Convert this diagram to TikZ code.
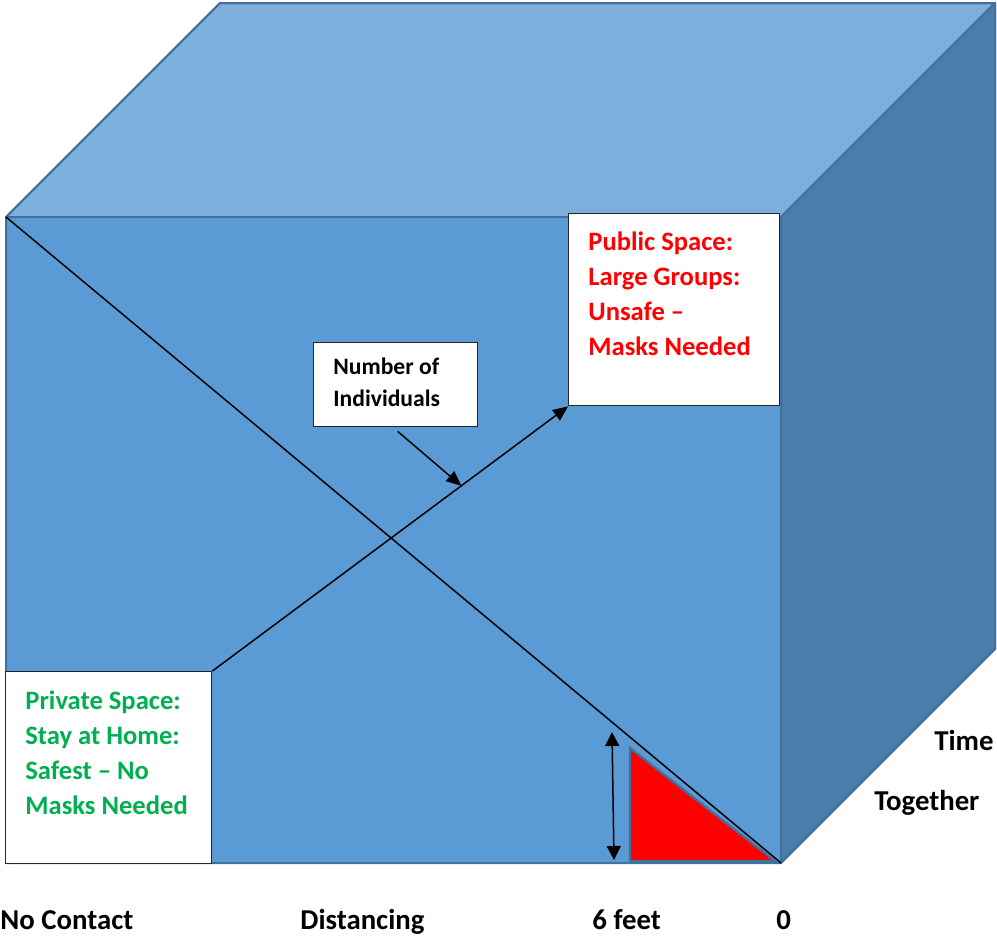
\documentclass[tikz,border=0pt]{standalone}
\usepackage{fontspec}
\setmainfont{Carlito}
\usepackage{xcolor}
\usetikzlibrary{positioning,calc,arrows.meta}
\definecolor{frontblue}{HTML}{5B9BD5}
\definecolor{topblue}{HTML}{7DAEDC}
\definecolor{sideblue}{HTML}{4A7DAB}
\definecolor{edgeblue}{HTML}{41719C}
\definecolor{safegreen}{HTML}{00B050}

\begin{document}
\begin{tikzpicture}[x=0.5pt,y=-0.5pt]
 \tikzset{face/.style={draw=edgeblue, line width=1pt, line join=round},
   box/.style={draw=black!85, fill=white, line width=0.7pt, inner sep=0pt},
   boxtext/.style={font=\fontsize{13.3}{17.5}\selectfont\bfseries, align=left, inner sep=0pt, anchor=north west},
   lbl/.style={font=\fontsize{14.4}{17}\selectfont\bfseries, inner sep=0pt, anchor=base west},
   tip/.style={-{Triangle[length=7.5pt,width=6.5pt]}, line width=0.75pt}};
 \useasboundingbox (0,0) rectangle (997,939);
 % cube corners
 \coordinate (ftl) at (6,217);
 \coordinate (ftr) at (781,217);
 \coordinate (fbr) at (781,863);
 \coordinate (fbl) at (6,863);
 \coordinate (btl) at (220,3);
 \coordinate (btr) at (995,3);
 \coordinate (bbr) at (995,649);
 \fill[face, fill=topblue] (ftl) -- (btl) -- (btr) -- (ftr) -- cycle;
 \fill[face, fill=sideblue] (ftr) -- (btr) -- (bbr) -- (fbr) -- cycle;
 \fill[face, fill=frontblue] (ftl) -- (ftr) -- (fbr) -- (fbl) -- cycle;
 \draw[face] (ftl) -- (btl) -- (btr) -- (ftr) -- cycle (btr) -- (bbr) -- (fbr) -- (fbl) -- (ftl) (ftr) -- (fbr);

 % diagonal
 \draw[line width=0.75pt] (ftl) -- (fbr);

 % red triangle + height arrow
 \coordinate (rtop) at (630,748);
 \coordinate (rbl) at (630,861);
 \coordinate (rbr) at (775,861);
 \filldraw[fill=red, draw=edgeblue, line width=1.2pt, line join=miter] (rtop) -- (rbl) -- (rbr) -- cycle;
 \coordinate (htop) at (612,732);
 \coordinate (hbot) at (614,860);
 \draw[{Triangle[length=7pt,width=7pt]}-{Triangle[length=7pt,width=7pt]}, line width=0.75pt] (htop) -- (hbot);

 % boxes
 \node[box, anchor=north west, minimum width=105.5pt, minimum height=96pt] (public) at (568,213) {};
 \node[boxtext, text=red] (publictxt) at (588,231) {Public Space:\\Large Groups:\\Unsafe --\\Masks Needed};
 \node[box, anchor=north west, minimum width=103pt, minimum height=96pt] (private) at (5,671) {};
 \node[boxtext, text=safegreen] (privatetxt) at (25,690) {Private Space:\\Stay at Home:\\Safest -- No\\Masks Needed};
 \node[box, anchor=north west, minimum width=82pt, minimum height=42pt] (number) at (313,342) {};
 \node[boxtext, font=\fontsize{11.8}{16}\selectfont\bfseries] (numbertxt) at (333,358) {Number of\\Individuals};

 % connectors
 \draw[tip] (private.north east) -- (public.south west);
 \coordinate (hit) at ($(private.north east)!0.70!(public.south west)$);
 \draw[tip] ([xshift=1pt,yshift=-2pt]number.south) -- (hit);

 % axis labels
 \node[lbl] (nocontact) at (0,929) {No Contact};
 \node[lbl] (distancing) at (300,929) {Distancing};
 \node[lbl] (sixfeet) at (592,929) {6 feet};
 \node[lbl] (zero) at (776,929) {0};
 \node[lbl] (time) at (934,750) {Time};
 \node[lbl] (together) at (874,810) {Together};
\end{tikzpicture}
\end{document}
